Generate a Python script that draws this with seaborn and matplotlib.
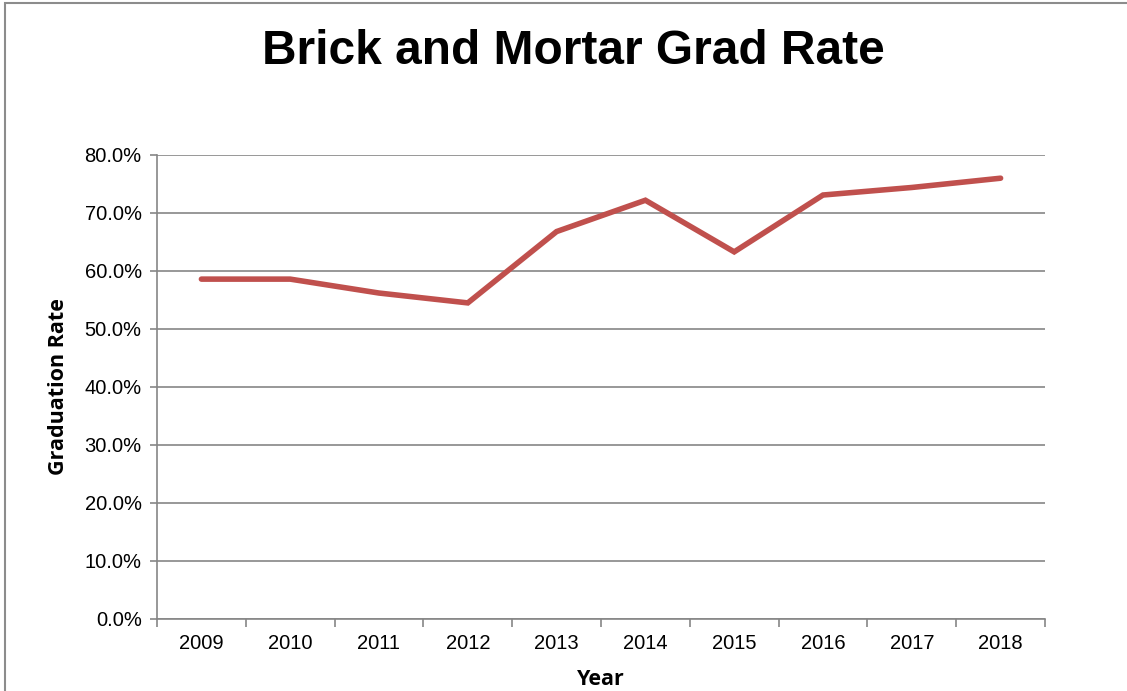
import pandas as pd
import seaborn as sns
import matplotlib.pyplot as plt
from matplotlib.ticker import FixedLocator, PercentFormatter
from matplotlib.patches import Rectangle

years = ["2009", "2010", "2011", "2012", "2013", "2014", "2015", "2016", "2017", "2018"]
grad_rate = [58.6, 58.6, 56.2, 54.5, 66.8, 72.2, 63.3, 73.1, 74.4, 76.0]

df = pd.DataFrame({"pos": range(len(years)), "rate": grad_rate})

sns.set_style("white")
plt.rcParams["font.family"] = ["Liberation Sans", "DejaVu Sans"]
plt.rcParams["text.color"] = "black"
plt.rcParams["axes.labelcolor"] = "black"
plt.rcParams["xtick.labelcolor"] = "black"
plt.rcParams["ytick.labelcolor"] = "black"

fig = plt.figure(figsize=(11.27, 6.91), dpi=100)
ax = fig.add_axes([157 / 1127, 72 / 691, 888 / 1127, 464 / 691])

# grey frame round the whole chart
fig.patches.append(Rectangle((5 / 1127, -0.01), 1.1, 1.01 - 3 / 691, transform=fig.transFigure,
                             fill=False, edgecolor="#8c8c8c", linewidth=1.5))

sns.lineplot(data=df, x="pos", y="rate", color="#C0504D", linewidth=4, ax=ax,
             solid_capstyle="round", solid_joinstyle="miter")

ax.set_ylim(0, 80)
ax.set_xlim(-0.5, len(years) - 0.5)
ax.set_yticks(range(0, 81, 10))
ax.yaxis.set_major_formatter(PercentFormatter(decimals=1))
ax.yaxis.grid(True, color="#868686", linewidth=1.2)
ax.set_axisbelow(True)

ax.xaxis.set_major_locator(FixedLocator([i - 0.5 for i in range(len(years) + 1)]))
ax.xaxis.set_minor_locator(FixedLocator(range(len(years))))
ax.set_xticklabels([])
ax.set_xticklabels(years, minor=True)
ax.tick_params(axis="x", which="major", direction="out", length=6, width=1.2, color="#868686", bottom=True)
ax.tick_params(axis="x", which="minor", length=0, labelsize=14.5, pad=11)
ax.tick_params(axis="y", direction="out", length=5, width=1.2, color="#868686", left=True, labelsize=14.5, pad=6)

for s in ["top", "right"]:
    ax.spines[s].set_visible(False)
for s in ["left", "bottom"]:
    ax.spines[s].set_color("#868686")
    ax.spines[s].set_linewidth(1.2)

ax.set_xlabel("Year", fontsize=15.5, fontweight="bold", family=["Open Sans", "DejaVu Sans"], labelpad=11)
ax.set_ylabel("Graduation Rate", fontsize=15.5, fontweight="bold", family=["Open Sans", "DejaVu Sans"], labelpad=11)

fig.text(573 / 1127, 1 - 52 / 691, "Brick and Mortar Grad Rate", ha="center", va="center",
         fontsize=34.5, fontweight="bold")

fig.savefig("out.png", dpi=100)
